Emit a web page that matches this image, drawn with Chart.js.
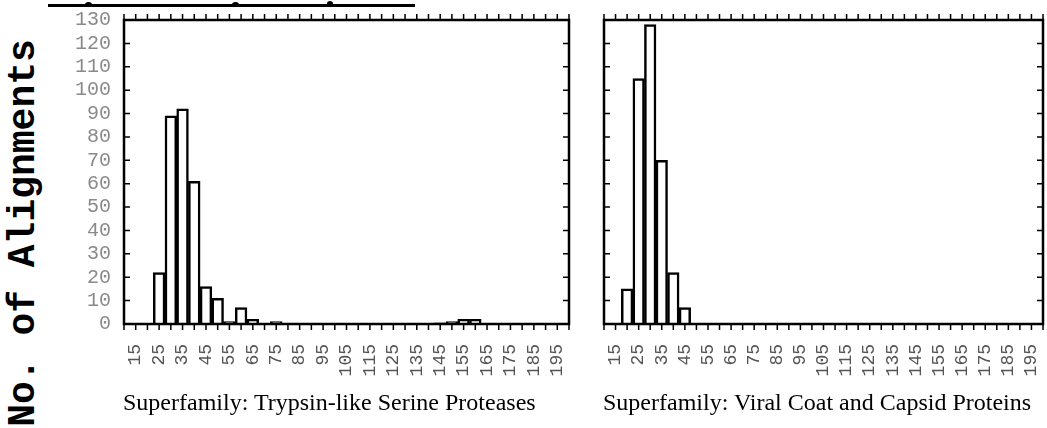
<!DOCTYPE html>
<html><head><meta charset="utf-8">
<script src="https://cdn.jsdelivr.net/npm/chart.js@4/dist/chart.umd.min.js"></script>
<style>
html,body{margin:0;padding:0;background:#fff;overflow:hidden;width:1047px;height:428px;position:relative;}
#c1{position:absolute;left:0;top:0;width:590px;height:428px;}
#c2{position:absolute;left:590px;top:0;width:480px;height:428px;}
.sub{position:absolute;top:389px;font-family:"Liberation Serif";font-size:24px;line-height:26px;color:#000;white-space:nowrap;}
#ytitle{position:absolute;left:23px;top:233px;transform:translate(-50%,-50%) rotate(-90deg);font-family:"Liberation Mono";font-weight:bold;font-size:38px;white-space:nowrap;color:#000;}
#topline{position:absolute;left:48px;top:4px;width:367px;height:3px;background:#000;}
.dot{position:absolute;background:#000;border-radius:50%;}
</style></head>
<body>
<div id="topline"></div>
<div class="dot" style="left:85px;top:2px;width:7px;height:5px"></div>
<div class="dot" style="left:232px;top:2px;width:7px;height:5px"></div>
<div class="dot" style="left:327px;top:1px;width:6px;height:5px"></div>
<div id="ytitle">No. of Alignments</div>
<canvas id="c1" width="590" height="428"></canvas>
<canvas id="c2" width="480" height="428"></canvas>
<div class="sub" style="left:123px">Superfamily: Trypsin-like Serine Proteases</div>
<div class="sub" style="left:603px">Superfamily: Viral Coat and Capsid Proteins</div>
<script>
const binStarts = [10,15,20,25,30,35,40,45,50,55,60,65,70,75,80,85,90,95,100,105,110,115,120,125,130,135,140,145,150,155,160,165,170,175,180,185,190,195,200];
const labeledBins = [15,25,35,45,55,65,75,85,95,105,115,125,135,145,155,165,175,185,195];
const trypsinCounts = [0,0,0,22,89,92,61,16,11,1,7,2,0,1, 0,0,0,0,0,0,0,0,0,0,0,0,0, 0.5,1,2,2, 0,0,0,0,0,0,0,0];
const viralCounts = [0,0,15,105,128,70,22,7, 0,0,0,0,0,0,0,0,0,0,0,0,0,0,0,0,0,0,0,0,0,0,0,0,0,0,0,0,0,0,0];
const yMarks = [10,20,30,40,50,60,70,80,90,100,110,120];

const framePlugin = {
  id: 'frame',
  afterDatasetsDraw(chart) {
    const {ctx, chartArea: a, scales: {x, y}} = chart;
    ctx.save();
    ctx.strokeStyle = '#000';
    ctx.lineWidth = 2.5;
    ctx.strokeRect(a.left, a.top, a.right - a.left, a.bottom - a.top);
    ctx.lineWidth = 1.5;
    ctx.beginPath();
    binStarts.forEach((b, i) => {
      const px = x.getPixelForValue(i);
      ctx.moveTo(px, a.bottom); ctx.lineTo(px, a.bottom + 6);
      ctx.moveTo(px, a.top); ctx.lineTo(px, a.top - 6);
    });
    yMarks.forEach(v => {
      const py = y.getPixelForValue(v);
      ctx.moveTo(a.left, py); ctx.lineTo(a.left + 6, py);
      ctx.moveTo(a.right, py); ctx.lineTo(a.right - 6, py);
    });
    ctx.stroke();
    ctx.restore();
  }
};

function makeChart(id, data, showY, yWidth, padding) {
  return new Chart(document.getElementById(id), {
    type: 'bar',
    data: {
      labels: binStarts.map(String),
      datasets: [{
        data: data,
        backgroundColor: '#fff',
        borderColor: '#000',
        borderWidth: 2.5,
        barPercentage: 1,
        categoryPercentage: 1
      }]
    },
    options: {
      responsive: false,
      animation: false,
      layout: {padding: padding},
      plugins: {legend: {display: false}, tooltip: {enabled: false}},
      scales: {
        x: {
          type: 'category',
          offset: false,
          grid: {display: false, drawTicks: false},
          border: {display: false},
          ticks: {
            autoSkip: false, minRotation: 90, maxRotation: 90, padding: 20,
            color: '#555', font: {family: 'Liberation Mono', size: 18},
            callback: (v, i) => labeledBins.includes(binStarts[i]) ? String(binStarts[i]) : ''
          },
          afterFit: s => { s.height = 104; s.paddingLeft = 0; s.paddingRight = 0; }
        },
        y: {
          display: showY,
          min: 0, max: 130,
          grid: {display: false, drawTicks: false},
          border: {display: false},
          ticks: {stepSize: 10, autoSkip: false, padding: 13, color: '#8a8a8a', font: {family: 'Liberation Mono', size: 20}},
          afterFit: s => { s.width = yWidth; s.paddingTop = 0; s.paddingBottom = 0; }
        }
      }
    },
    plugins: [framePlugin]
  });
}

makeChart('c1', trypsinCounts, true, 124, {top: 20, right: 21, left: 0, bottom: 0});
makeChart('c2', viralCounts, false, 14, {top: 20, right: 27, left: 0, bottom: 0});
</script>
</body></html>
